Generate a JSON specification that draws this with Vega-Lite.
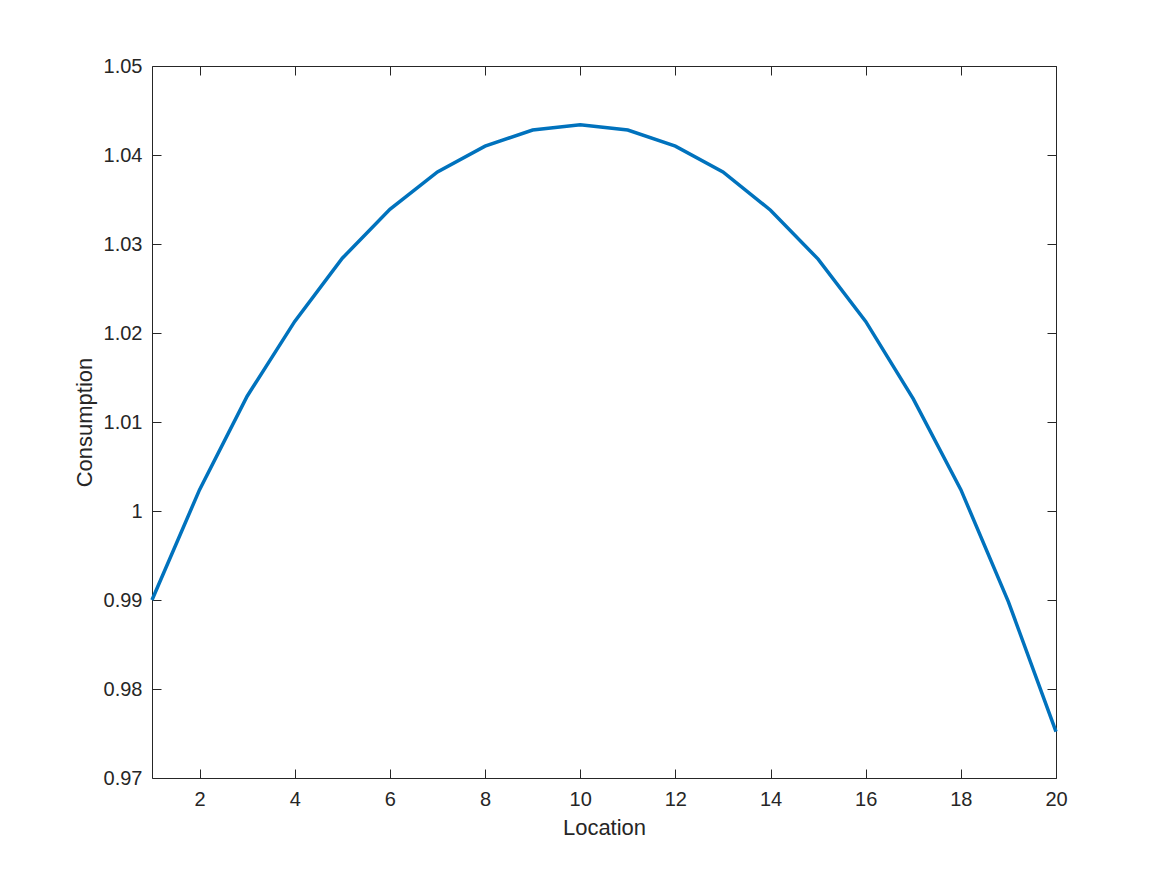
{
  "$schema": "https://vega.github.io/schema/vega-lite/v6.json",
  "width": 904,
  "height": 712,
  "autosize": {"type": "none"},
  "padding": {"left": 152, "top": 66, "right": 111, "bottom": 97},
  "background": "white",
  "config": {
    "view": {"stroke": null},
    "axis": {
      "domainColor": "#262626",
      "tickColor": "#262626",
      "labelColor": "#262626",
      "titleColor": "#262626",
      "labelFont": "Liberation Sans",
      "titleFont": "Liberation Sans",
      "labelFontSize": 20,
      "titleFontSize": 22,
      "titleFontWeight": "normal",
      "labelFlush": false,
      "labelOverlap": false,
      "grid": false,
      "domainWidth": 1,
      "tickWidth": 1
    }
  },
  "data": {
    "values": [
      {"Location": 1, "Consumption": 0.9900},
      {"Location": 2, "Consumption": 1.0024},
      {"Location": 3, "Consumption": 1.0129},
      {"Location": 4, "Consumption": 1.0213},
      {"Location": 5, "Consumption": 1.0284},
      {"Location": 6, "Consumption": 1.0339},
      {"Location": 7, "Consumption": 1.0381},
      {"Location": 8, "Consumption": 1.0410},
      {"Location": 9, "Consumption": 1.0428},
      {"Location": 10, "Consumption": 1.0434},
      {"Location": 11, "Consumption": 1.0428},
      {"Location": 12, "Consumption": 1.0410},
      {"Location": 13, "Consumption": 1.0381},
      {"Location": 14, "Consumption": 1.0338},
      {"Location": 15, "Consumption": 1.0283},
      {"Location": 16, "Consumption": 1.0213},
      {"Location": 17, "Consumption": 1.0126},
      {"Location": 18, "Consumption": 1.0024},
      {"Location": 19, "Consumption": 0.9898},
      {"Location": 20, "Consumption": 0.9752}
    ]
  },
  "layer": [
    {
      "mark": {"type": "line", "color": "#0072BD", "strokeWidth": 3.5},
      "encoding": {
        "x": {
          "field": "Location", "type": "quantitative",
          "scale": {"domain": [1, 20], "nice": false, "zero": false},
          "axis": {"orient": "bottom", "values": [2,4,6,8,10,12,14,16,18,20], "tickSize": -9, "labelPadding": 20, "title": "Location", "titlePadding": 8}
        },
        "y": {
          "field": "Consumption", "type": "quantitative",
          "scale": {"domain": [0.97, 1.05], "nice": false, "zero": false},
          "axis": {"orient": "left", "values": [0.97,0.98,0.99,1,1.01,1.02,1.03,1.04,1.05], "format": "~g", "tickSize": -9, "labelPadding": 19, "title": "Consumption", "titlePadding": 7}
        }
      }
    },
    {
      "mark": {"type": "line", "strokeOpacity": 0},
      "encoding": {
        "x": {
          "field": "Location", "type": "quantitative",
          "scale": {"domain": [1, 20], "nice": false, "zero": false},
          "axis": {"orient": "top", "values": [2,4,6,8,10,12,14,16,18,20], "tickSize": -9, "labels": false, "title": null}
        },
        "y": {
          "field": "Consumption", "type": "quantitative",
          "scale": {"domain": [0.97, 1.05], "nice": false, "zero": false},
          "axis": {"orient": "right", "values": [0.97,0.98,0.99,1,1.01,1.02,1.03,1.04,1.05], "tickSize": -9, "labels": false, "title": null}
        }
      }
    }
  ],
  "resolve": {"axis": {"x": "independent", "y": "independent"}}
}
